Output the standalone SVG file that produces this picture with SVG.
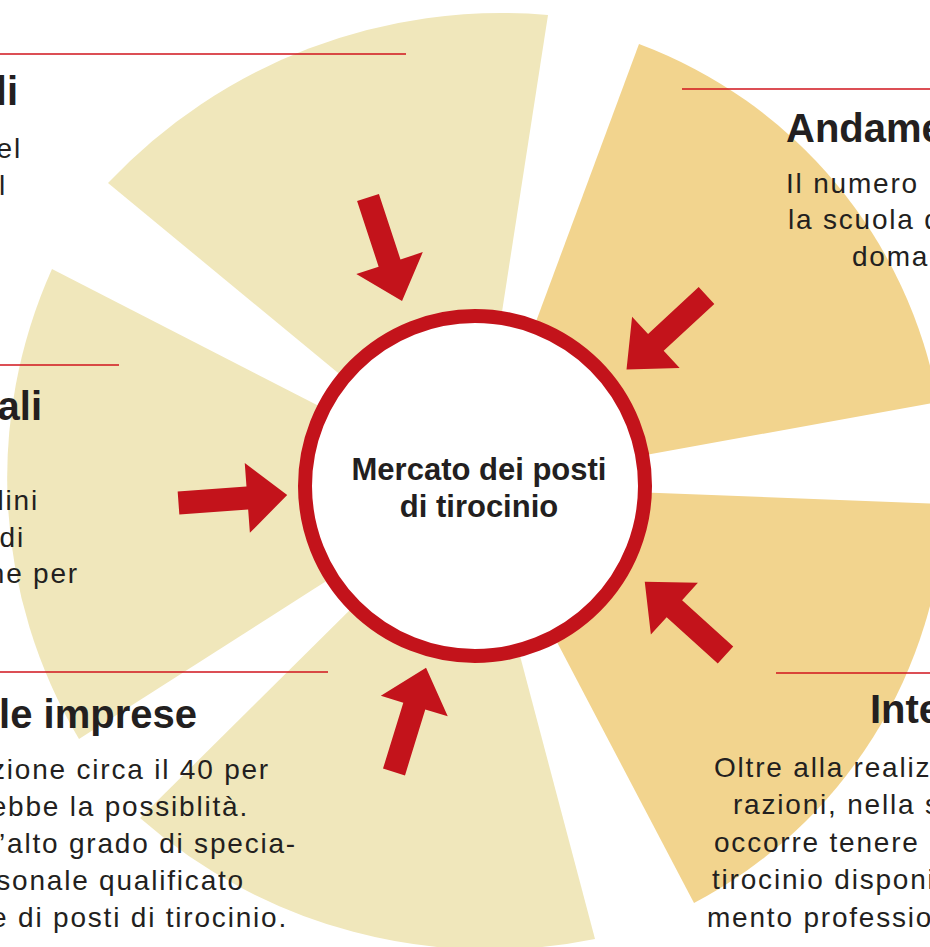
<svg xmlns="http://www.w3.org/2000/svg" xmlns:xlink="http://www.w3.org/1999/xlink" width="930" height="947" viewBox="0 0 930 947">
<style>
.pale{fill:#f0e7bb}
.warm{fill:#f2d48e}
.rule{stroke:#d0141c;stroke-width:1.5;fill:none}
.h{font-family:"Liberation Sans",Arial,sans-serif;font-weight:bold;font-size:40px;fill:#231f20}
.b{font-family:"Liberation Sans",Arial,sans-serif;font-size:28px;letter-spacing:1.8px;fill:#231f20}
.c{font-family:"Liberation Sans",Arial,sans-serif;font-weight:bold;font-size:31px;fill:#231f20;text-anchor:middle}
.e{text-anchor:end}
.arrow{fill:#c3131b}
</style>
<defs>
<path id="arr" d="M0,-11.5 H69 V-35 L109,0 L69,35 V11.5 H0 Z"/>
</defs>
<rect width="930" height="947" fill="#ffffff"/>

<g id="wedge-top">
<path class="pale" d="M475,486 L108,183 A540,540 0 0 1 548,15 Z"/>
<line class="rule" x1="0" y1="54" x2="406" y2="54"/>
<text class="h e" x="18" y="105">li</text>
<text class="b e" x="22" y="158">el</text>
<text class="b e" x="7" y="195">l</text>
</g>

<g id="wedge-left">
<path class="pale" d="M475,486 L79,739 A510,510 0 0 1 52,269 Z"/>
<line class="rule" x1="0" y1="365" x2="119" y2="365"/>
<text class="h e" x="42" y="420">ali</text>
<text class="b e" x="39" y="510">lini</text>
<text class="b e" x="25" y="547">di</text>
<text class="b e" x="79" y="583">ne per</text>
</g>

<g id="wedge-bottom">
<path class="pale" d="M475,486 L595,939 A530,530 0 0 1 140,818 Z"/>
<line class="rule" x1="0" y1="672" x2="328" y2="672"/>
<text class="h e" x="197" y="728">le imprese</text>
<text class="b e" x="270" y="779">zione circa il 40 per</text>
<text class="b e" x="249" y="816">ebbe la possiblità.</text>
<text class="b e" x="297" y="853">’alto grado di specia-</text>
<text class="b e" x="245" y="890">sonale qualificato</text>
<text class="b e" x="288" y="927">e di posti di tirocinio.</text>
</g>

<g id="wedge-right-upper">
<path class="warm" d="M475,486 L639,44 A471,471 0 0 1 938,402 Z"/>
<line class="rule" x1="682" y1="89" x2="930" y2="89"/>
<text class="h" x="786" y="142">Andame</text>
<text class="b" x="786" y="193">Il numero</text>
<text class="b" x="788" y="229">la scuola d</text>
<text class="b" x="852" y="266">doma</text>
</g>

<g id="wedge-right-lower">
<path class="warm" d="M475,486 L945,504 A470,470 0 0 1 694,903 Z"/>
<line class="rule" x1="776" y1="673" x2="930" y2="673"/>
<text class="h" x="870" y="723">Inte</text>
<text class="b" x="714" y="777">Oltre alla realiz</text>
<text class="b" x="733" y="814">razioni, nella s</text>
<text class="b" x="714" y="852">occorre tenere</text>
<text class="b" x="712" y="889">tirocinio disponi</text>
<text class="b" x="707" y="927">mento professio</text>
</g>

<g id="center">
<circle cx="475" cy="486" r="170" fill="#ffffff" stroke="#c3131b" stroke-width="14"/>
<text class="c" x="479" y="480">Mercato dei posti</text>
<text class="c" x="479" y="517">di tirocinio</text>
</g>

<g id="connectors" class="arrow">
<use xlink:href="#arr" transform="translate(368,197.5) rotate(71.8)"/>
<use xlink:href="#arr" transform="translate(706.5,295.5) rotate(137.2)"/>
<use xlink:href="#arr" transform="translate(725.5,655) rotate(-137.8)"/>
<use xlink:href="#arr" transform="translate(394,772) rotate(-72.9)"/>
<use xlink:href="#arr" transform="translate(178.5,503) rotate(-4.2)"/>
</g>
</svg>
